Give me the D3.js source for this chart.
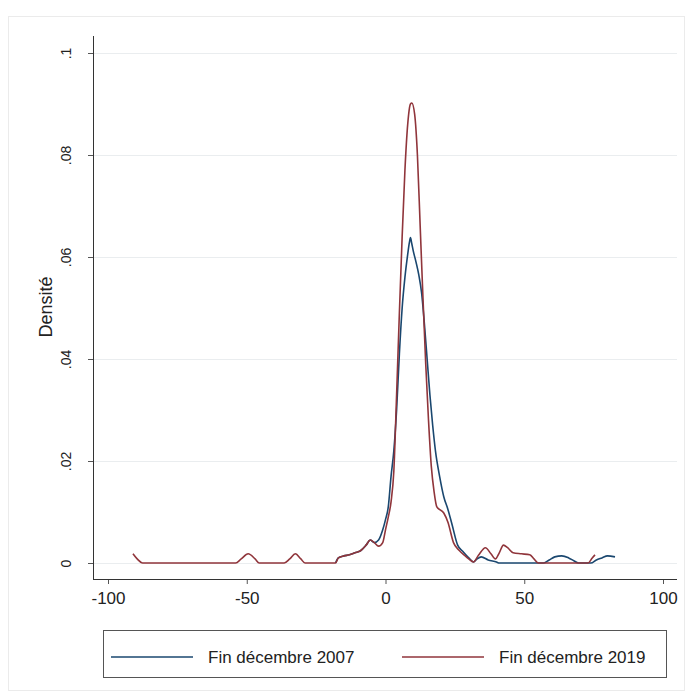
<!DOCTYPE html>
<html lang="fr">
<head>
<meta charset="UTF-8">
<title>Densité</title>
<script src="https://cdn.jsdelivr.net/npm/d3@7"></script>
<style>
  body { margin: 0; background: #fff; }
  svg { display: block; font-family: "Liberation Sans", Arial, sans-serif; }
</style>
</head>
<body>
<div id="chart"></div>
<script>
// kernel density, fin décembre 2007 : [valeur, densité]
const dens2007 = [
  [-18, 0], [-17, 0.0010], [-15, 0.0014], [-13, 0.0016], [-11, 0.0020], [-9, 0.0024],
  [-7, 0.0035], [-5.5, 0.0045], [-4, 0.0040], [-2.5, 0.0045], [-1, 0.0065], [0, 0.0085],
  [1, 0.011], [2, 0.017], [3, 0.022], [4, 0.030], [5, 0.041], [6, 0.050], [7, 0.056],
  [8, 0.0605], [8.6, 0.0628], [9, 0.0638], [9.4, 0.0628], [10, 0.0612], [11, 0.0590],
  [12, 0.0565], [13, 0.053], [14, 0.047], [15, 0.040], [16, 0.033], [17, 0.027],
  [18, 0.022], [19.5, 0.017], [21, 0.013], [22.5, 0.0105], [24, 0.0075], [26, 0.0035],
  [28, 0.0022], [30, 0.001], [31.7, 0.0002], [33, 0.0008], [34.5, 0.0012], [37, 0.0006],
  [40, 0.0002], [41, 0], [57, 0], [59, 0.0006], [61, 0.0012], [63.5, 0.0014], [66, 0.0010],
  [68, 0.0004], [69.5, 0], [74, 0], [76, 0.0006], [78, 0.0010], [80, 0.0014], [82.7, 0.0012]
];

// kernel density, fin décembre 2019
const dens2019 = [
  [-91, 0.0018], [-89.5, 0.0008], [-87.5, 0], [-54, 0], [-52, 0.0008], [-49.5, 0.0018],
  [-47, 0.0008], [-45.5, 0], [-36.5, 0], [-34.5, 0.0008], [-32.5, 0.0018], [-30.5, 0.0008],
  [-29, 0], [-18, 0], [-17, 0.0010], [-15, 0.0014], [-13, 0.0016], [-11, 0.0020],
  [-9, 0.0024], [-7, 0.0035], [-5.5, 0.0045], [-4, 0.0040], [-2.5, 0.0033], [-1, 0.0040],
  [0, 0.0065], [1, 0.009], [2, 0.012], [3, 0.018], [4, 0.033], [5, 0.049], [6, 0.064],
  [7, 0.077], [8, 0.086], [9, 0.0900], [9.5, 0.0902], [10.5, 0.088], [11.5, 0.080],
  [12.5, 0.066], [13.5, 0.052], [14.5, 0.039], [15.5, 0.028], [16.5, 0.019], [17.5, 0.014],
  [18.5, 0.011], [21, 0.0098], [22.5, 0.008], [24.5, 0.004], [26.5, 0.0025], [28.5, 0.0015],
  [30, 0.0008], [31.7, 0.0002], [33.5, 0.0015], [36, 0.003], [38, 0.0018], [39.6, 0.0008],
  [41, 0.002], [42.5, 0.0035], [44, 0.003], [46, 0.002], [49, 0.0018], [52, 0.0016],
  [53.5, 0.0008], [55, 0], [73, 0], [74.5, 0.0010], [75.5, 0.0016]
];

const xTicks = [-100, -50, 0, 50, 100];
const yTicks = [0, 0.02, 0.04, 0.06, 0.08, 0.1];
const yTickLabels = ["0", ".02", ".04", ".06", ".08", ".1"];
const seriesNames = ["Fin décembre 2007", "Fin décembre 2019"];
const seriesColors = ["#1a476f", "#90353b"];

const width = 692, height = 697;
const axisX = 93, axisY = 579, plotTop = 36, plotRight = 677;

const svg = d3.select("#chart").append("svg")
  .attr("width", width)
  .attr("height", height);

// cadre du graphique
svg.append("rect")
  .attr("x", 8.5).attr("y", 16.5)
  .attr("width", 676).attr("height", 674)
  .attr("fill", "#fff")
  .attr("stroke", "#ebebeb");

const x = d3.scaleLinear().domain([-100, 100]).range([108, 663]);
const y = d3.scaleLinear().domain([0, 0.1]).range([563, 53]);

// grille
svg.append("g")
  .selectAll("line")
  .data(yTicks)
  .join("line")
  .attr("x1", axisX).attr("x2", plotRight)
  .attr("y1", d => Math.round(y(d)) + 0.5).attr("y2", d => Math.round(y(d)) + 0.5)
  .attr("stroke", "#eaedef")
  .attr("stroke-width", 1.2);

// courbes
const line = d3.line()
  .x(d => x(d[0]))
  .y(d => y(d[1]))
  .curve(d3.curveMonotoneX);

[dens2007, dens2019].forEach((s, i) => {
  svg.append("path")
    .datum(s)
    .attr("d", line)
    .attr("fill", "none")
    .attr("stroke", seriesColors[i])
    .attr("stroke-width", 1.6)
    .attr("stroke-linejoin", "round");
});

// axe x
const xAxis = d3.axisBottom(x).tickValues(xTicks).tickSize(5).tickPadding(8).tickFormat(d => d);
const gx = svg.append("g")
  .attr("transform", "translate(0," + axisY + ")")
  .call(xAxis);
gx.select(".domain").remove();
gx.append("line")
  .attr("x1", axisX).attr("x2", plotRight)
  .attr("y1", 0.5).attr("y2", 0.5)
  .attr("stroke", "#333");
gx.selectAll(".tick line").attr("stroke", "#555");
gx.selectAll(".tick text")
  .attr("font-family", "'Liberation Sans', Arial, sans-serif")
  .attr("font-size", 17)
  .attr("fill", "#222");

// axe y
const yAxis = d3.axisLeft(y).tickValues(yTicks).tickSize(5).tickFormat((d, i) => yTickLabels[i]);
const gy = svg.append("g")
  .attr("transform", "translate(" + axisX + ",0)")
  .call(yAxis);
gy.select(".domain").remove();
gy.append("line")
  .attr("x1", 0.5).attr("x2", 0.5)
  .attr("y1", plotTop).attr("y2", axisY + 1)
  .attr("stroke", "#333");
gy.selectAll(".tick line").attr("stroke", "#555");
gy.selectAll(".tick text")
  .attr("x", 0).attr("y", 0).attr("dy", null)
  .attr("transform", "translate(-22,0) rotate(-90)")
  .attr("text-anchor", "middle")
  .attr("font-family", "'Liberation Sans', Arial, sans-serif")
  .attr("font-size", 14)
  .attr("fill", "#222");

svg.append("text")
  .attr("transform", "translate(52,307) rotate(-90)")
  .attr("text-anchor", "middle")
  .attr("font-size", 18)
  .attr("fill", "#222")
  .text("Densité");

// légende
const leg = svg.append("g");
leg.append("rect")
  .attr("x", 103.5).attr("y", 630.5)
  .attr("width", 563).attr("height", 47)
  .attr("fill", "#fff")
  .attr("stroke", "#555");

const legX = [111, 402];
seriesNames.forEach((name, i) => {
  leg.append("line")
    .attr("x1", legX[i]).attr("x2", legX[i] + 82)
    .attr("y1", 657).attr("y2", 657)
    .attr("stroke", seriesColors[i])
    .attr("stroke-width", 1.6);
  leg.append("text")
    .attr("x", legX[i] + 97).attr("y", 663)
    .attr("font-size", 17)
    .attr("fill", "#222")
    .text(name);
});
</script>
</body>
</html>
